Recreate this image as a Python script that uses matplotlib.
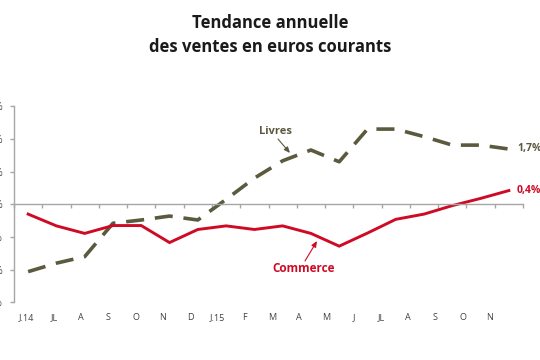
import matplotlib
matplotlib.use("Agg")
import matplotlib.pyplot as plt
import numpy as np

plt.rcParams['font.family'] = ['Open Sans', 'DejaVu Sans']

months = ["J.14", "JL", "A", "S", "O", "N", "D", "J.15", "F", "M",
          "A", "M", "J", "JL", "A", "S", "O", "N"]
commerce = [-0.30, -0.66, -0.89, -0.65, -0.65, -1.17, -0.77, -0.66, -0.77, -0.66,
            -0.89, -1.28, -0.88, -0.46, -0.30, -0.04, 0.18, 0.42]
livres = [-2.06, -1.80, -1.60, -0.58, -0.48, -0.36, -0.48, 0.15, 0.80, 1.33,
          1.66, 1.30, 2.30, 2.30, 2.07, 1.81, 1.81, 1.69]
yticks = [-3, -2, -1, 0, 1, 2, 3]
ytick_labels = ["-3%", "-2%", "-1%", "0%", "1%", "2%", "3%"]
title = "Tendance annuelle\ndes ventes en euros courants"

RED = "#cf0a25"
OLIVE = "#5b5a3f"
GREY = "#a6a6a6"
W, H = 540, 360

fig = plt.figure(figsize=(5.4, 3.6), dpi=100)

def fx(px):
    return px / W

def fy(py):
    return 1 - py / H

# main axes
left, right, top, bottom = 14, 523, 106.2, 302.4
ax = fig.add_axes([fx(left), fy(bottom), fx(right - left), (bottom - top) / H])
x = np.arange(len(months))
ax.plot(x, livres, color=OLIVE, lw=2.6, dashes=(5.0, 3.0),
        dash_capstyle='butt')
ax.plot(x, commerce, color=RED, lw=2.1, solid_joinstyle='miter')

ax.set_xlim(-0.5, len(months) - 0.5)
ax.set_ylim(-3, 3)
for s in ['top', 'right']:
    ax.spines[s].set_visible(False)
ax.spines['left'].set_color(GREY)
ax.spines['left'].set_linewidth(1.0)
ax.spines['bottom'].set_position(('data', 0))
ax.spines['bottom'].set_color(GREY)
ax.spines['bottom'].set_linewidth(1.0)
ax.set_xticks(np.arange(len(months) + 1) - 0.5)
ax.set_xticklabels([])
ax.tick_params(axis='x', direction='out', length=3, color=GREY, width=1.0)
ax.set_yticks(yticks)
ax.set_yticklabels(ytick_labels)
ax.tick_params(axis='y', direction='out', length=3, color=GREY, width=1.0,
               labelsize=7, labelcolor="#404040", pad=5)

# category labels row
lab = fig.add_axes([fx(13.1), fy(313), fx(503.6 - 13.1), 0.001])
lab.set_xlim(-0.5, len(months) - 0.5)
lab.set_xticks(x)
lab.set_xticklabels(months)
lab.tick_params(axis='x', length=0, labelsize=6.5, labelcolor="#404040", pad=0)
lab.set_yticks([])
for s in lab.spines.values():
    s.set_visible(False)
lab.patch.set_visible(False)

# annotations
fig.text(fx(275), fy(132), "Livres", ha='center', va='center', fontsize=8,
         fontweight='bold', color=OLIVE)
ax.annotate("", xy=(fx(290), fy(153)), xycoords='figure fraction',
            xytext=(fx(278), fy(139)), textcoords='figure fraction',
            arrowprops=dict(arrowstyle='-|>,head_length=0.35,head_width=0.15',
                            color=OLIVE, lw=0.8, shrinkA=0, shrinkB=0))
fig.text(fx(304), fy(268), "Commerce", ha='center', va='center', fontsize=8.5,
         fontweight='bold', color=RED)
ax.annotate("", xy=(fx(317), fy(241)), xycoords='figure fraction',
            xytext=(fx(305), fy(261)), textcoords='figure fraction',
            arrowprops=dict(arrowstyle='-|>,head_length=0.35,head_width=0.15',
                            color=RED, lw=0.8, shrinkA=0, shrinkB=0))
fig.text(fx(517), fy(149), "1,7%", ha='left', va='center', fontsize=7.5,
         fontweight='bold', color=OLIVE)
fig.text(fx(517), fy(190), "0,4%", ha='left', va='center', fontsize=7.5,
         fontweight='bold', color=RED)

fig.text(0.5, fy(35), title, ha='center', va='center', fontsize=12,
         fontweight='bold', color="#1a1a1a", linespacing=1.5)

fig.savefig("out.png", dpi=100)
